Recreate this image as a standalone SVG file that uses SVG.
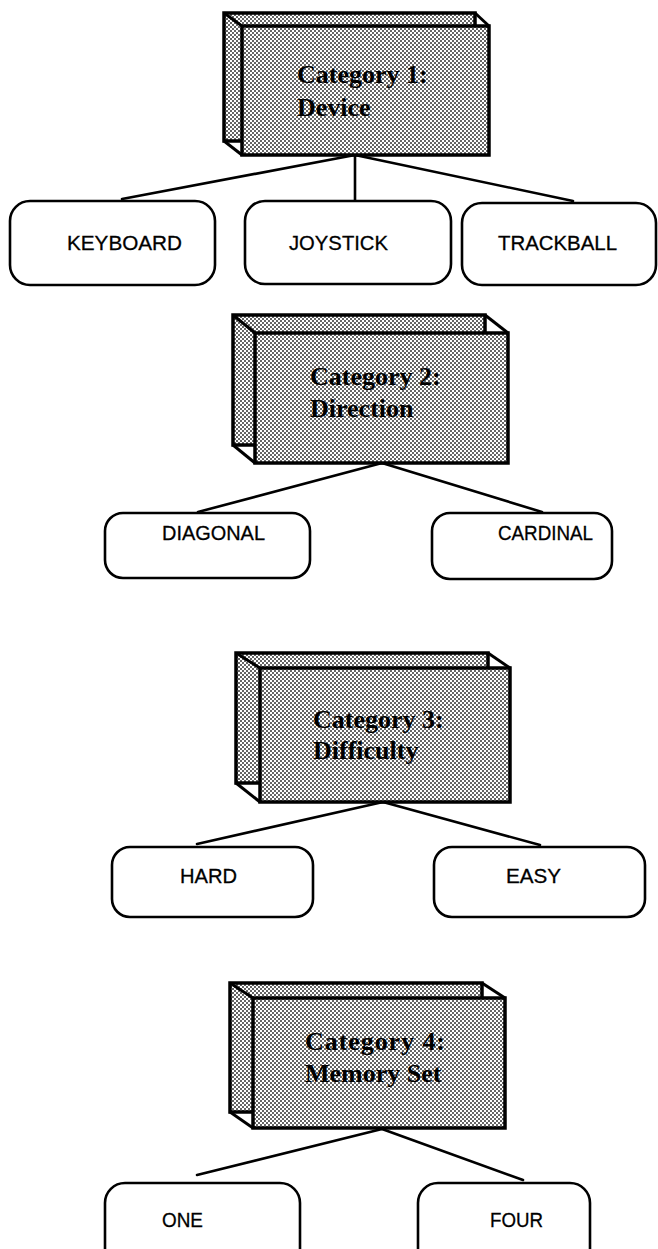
<svg xmlns="http://www.w3.org/2000/svg" width="658" height="1249" viewBox="0 0 658 1249">
<style>
.face{fill:url(#dots);stroke:#000;stroke-width:3.5;stroke-linejoin:miter}
.edge{fill:none;stroke:#000;stroke-width:3}
.cat{font-family:"Liberation Serif",serif;font-weight:bold;font-size:26px;fill:#000}
.leaf rect{fill:#fff;stroke:#000;stroke-width:2.6}
.leaf text{font-family:"Liberation Sans",Arial,sans-serif;font-size:21px;fill:#000;stroke:#000;stroke-width:0.3}
#connectors line{stroke:#000;stroke-width:2.6;stroke-linecap:round}
</style>
<defs>
<pattern id="dots" width="4" height="4" patternUnits="userSpaceOnUse">
<rect width="4" height="4" fill="#fff"/>
<circle cx="1" cy="1" r="0.95" fill="#222"/>
<circle cx="3" cy="3" r="0.95" fill="#222"/>
</pattern>
</defs>
<rect width="658" height="1249" fill="#fff"/>

<g id="connectors">
<line x1="355" y1="155" x2="122" y2="199"/>
<line x1="355" y1="155" x2="355" y2="201"/>
<line x1="355" y1="155" x2="573" y2="201"/>
<line x1="382" y1="463" x2="198" y2="512"/>
<line x1="382" y1="463" x2="542" y2="512"/>
<line x1="383" y1="802" x2="197" y2="844"/>
<line x1="383" y1="802" x2="540" y2="845"/>
<line x1="382" y1="1129" x2="197" y2="1175"/>
<line x1="382" y1="1129" x2="523" y2="1180"/>
</g>

<g id="cat1">
<rect class="face" x="224" y="13" width="251" height="128"/>
<line class="edge" x1="224" y1="13" x2="242" y2="26"/>
<line class="edge" x1="475" y1="13" x2="489" y2="26"/>
<line class="edge" x1="224" y1="141" x2="242" y2="155"/>
<rect class="face" x="242" y="26" width="247" height="129"/>
<text class="cat" x="297" y="83">Category 1:</text>
<text class="cat" x="297" y="116">Device</text>
</g>

<g id="cat2">
<rect class="face" x="233" y="315" width="252" height="130"/>
<line class="edge" x1="233" y1="315" x2="255" y2="333"/>
<line class="edge" x1="485" y1="315" x2="508" y2="333"/>
<line class="edge" x1="233" y1="445" x2="255" y2="463"/>
<rect class="face" x="255" y="333" width="253" height="130"/>
<text class="cat" x="310" y="385">Category 2:</text>
<text class="cat" x="310" y="417">Direction</text>
</g>

<g id="cat3">
<rect class="face" x="236" y="653" width="252" height="130"/>
<line class="edge" x1="236" y1="653" x2="260" y2="668"/>
<line class="edge" x1="488" y1="653" x2="510" y2="668"/>
<line class="edge" x1="236" y1="783" x2="260" y2="802"/>
<rect class="face" x="260" y="668" width="250" height="134"/>
<text class="cat" x="313" y="728">Category 3:</text>
<text class="cat" x="313" y="759">Difficulty</text>
</g>

<g id="cat4">
<rect class="face" x="230" y="983" width="252" height="129"/>
<line class="edge" x1="230" y1="983" x2="253" y2="998"/>
<line class="edge" x1="482" y1="983" x2="505" y2="998"/>
<line class="edge" x1="230" y1="1112" x2="253" y2="1128"/>
<rect class="face" x="253" y="998" width="252" height="130"/>
<text class="cat" x="305" y="1050" textLength="140">Category 4:</text>
<text class="cat" x="305" y="1082">Memory Set</text>
</g>

<g id="keyboard" class="leaf"><rect x="10" y="201" width="205" height="84" rx="20"/><text x="67" y="250" textLength="115" lengthAdjust="spacingAndGlyphs">KEYBOARD</text></g>
<g id="joystick" class="leaf"><rect x="245" y="201" width="206" height="83" rx="20"/><text x="289" y="250" textLength="99" lengthAdjust="spacingAndGlyphs">JOYSTICK</text></g>
<g id="trackball" class="leaf"><rect x="462" y="203" width="194" height="82" rx="20"/><text x="498" y="250" textLength="119" lengthAdjust="spacingAndGlyphs">TRACKBALL</text></g>
<g id="diagonal" class="leaf"><rect x="105" y="513" width="205" height="65" rx="18"/><text x="162" y="540" textLength="103" lengthAdjust="spacingAndGlyphs">DIAGONAL</text></g>
<g id="cardinal" class="leaf"><rect x="432" y="513" width="180" height="66" rx="18"/><text x="498" y="540" textLength="95" lengthAdjust="spacingAndGlyphs">CARDINAL</text></g>
<g id="hard" class="leaf"><rect x="112" y="847" width="201" height="70" rx="18"/><text x="180" y="883" textLength="57" lengthAdjust="spacingAndGlyphs">HARD</text></g>
<g id="easy" class="leaf"><rect x="434" y="847" width="211" height="70" rx="18"/><text x="506" y="883" textLength="55" lengthAdjust="spacingAndGlyphs">EASY</text></g>
<g id="one" class="leaf"><rect x="105" y="1183" width="195" height="100" rx="20"/><text x="162" y="1227" textLength="41" lengthAdjust="spacingAndGlyphs">ONE</text></g>
<g id="four" class="leaf"><rect x="418" y="1183" width="172" height="100" rx="20"/><text x="490" y="1227" textLength="53" lengthAdjust="spacingAndGlyphs">FOUR</text></g>
</svg>
